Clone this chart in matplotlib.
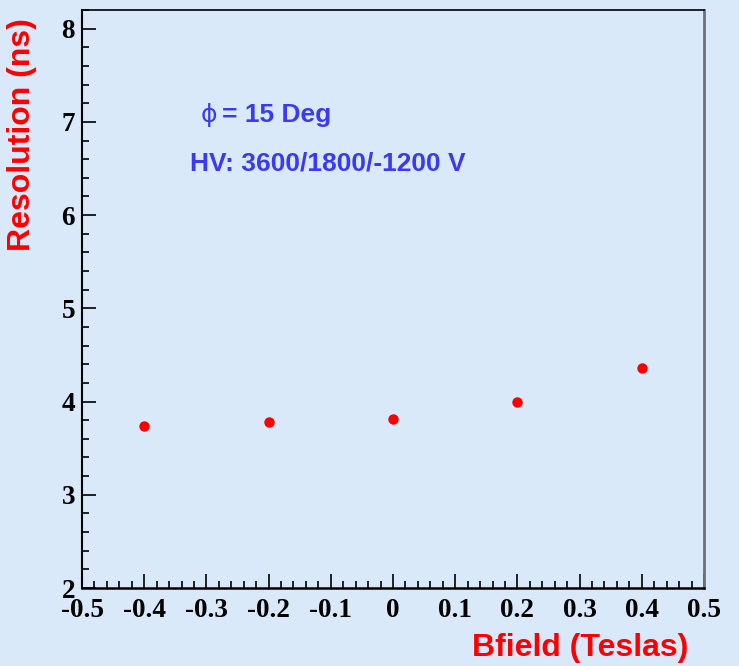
import matplotlib.pyplot as plt
from matplotlib.ticker import AutoMinorLocator

# data
bfield = [-0.4, -0.2, 0.0, 0.2, 0.4]
resolution = [3.74, 3.78, 3.81, 3.99, 4.36]
xticks = [-0.5, -0.4, -0.3, -0.2, -0.1, 0, 0.1, 0.2, 0.3, 0.4, 0.5]
xticklabels = ["-0.5", "-0.4", "-0.3", "-0.2", "-0.1", "0", "0.1", "0.2", "0.3", "0.4", "0.5"]
yticks = [2, 3, 4, 5, 6, 7, 8]

bg = "#d9e9fa"
blue = "#3a3af0"

fig = plt.figure(figsize=(7.39, 6.66), dpi=100, facecolor=bg)
ax = fig.add_axes([82 / 739, 1 - 588 / 666, (704 - 82) / 739, (588 - 10) / 666])
ax.set_facecolor(bg)

ax.plot(bfield, resolution, "o", color="red", markersize=7.5, markeredgewidth=0)

ax.set_xlim(-0.5, 0.5)
ax.set_ylim(2, 8.2)
ax.set_xticks(xticks)
ax.set_xticklabels(xticklabels)
ax.set_yticks(yticks)
ax.xaxis.set_minor_locator(AutoMinorLocator(5))
ax.yaxis.set_minor_locator(AutoMinorLocator(5))

ax.tick_params(which="both", direction="in", top=False, right=False, width=1.2, color="black")
ax.tick_params(which="major", length=10)
ax.tick_params(axis="x", which="major", pad=7)
ax.tick_params(axis="y", which="major", pad=5)
ax.tick_params(which="minor", length=5)
for lab in ax.get_xticklabels() + ax.get_yticklabels():
    lab.set_fontfamily("Liberation Serif")
    lab.set_fontweight("bold")
    lab.set_fontsize(19.5)

ax.spines["left"].set_linewidth(1.5)
ax.spines["bottom"].set_linewidth(1.8)
ax.spines["top"].set_linewidth(1.2)
ax.spines["right"].set_linewidth(2.0)
ax.spines["right"].set_color("#707070")

# annotations
ax.text(0.19, 0.818, "ϕ", transform=ax.transAxes, color=blue, fontsize=18,
        family=["DejaVu Sans"], va="center")
ax.text(0.225, 0.818, "= 15 Deg", transform=ax.transAxes, color=blue, fontsize=19,
        family=["Liberation Sans", "DejaVu Sans"], fontweight="bold", va="center")
ax.text(0.174, 0.735, "HV: 3600/1800/-1200 V", transform=ax.transAxes, color=blue,
        fontsize=19, family=["Liberation Sans", "DejaVu Sans"], fontweight="bold", va="center")

fig.text(22 / 739, 1 - 18 / 666, "Resolution (ns)", rotation=90, ha="center", va="top",
         color="red", fontsize=23, family="Liberation Sans", fontweight="bold")
fig.text(688 / 739, 1 - 648 / 666, "Bfield (Teslas)", ha="right", va="center",
         color="red", fontsize=23, family="Liberation Sans", fontweight="bold")

fig.savefig("out.png", dpi=100, facecolor=bg)
